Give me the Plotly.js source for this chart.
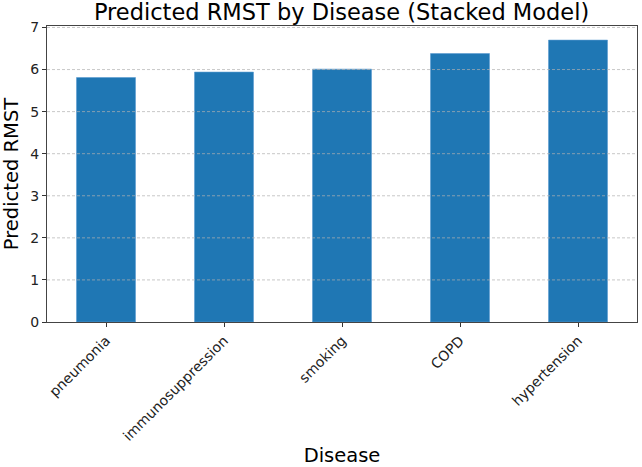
<!DOCTYPE html>
<html>
<head>
<meta charset="utf-8">
<script src="https://cdn.plot.ly/plotly-3.0.1.min.js"></script>
<style>html,body{margin:0;padding:0;background:#fff;}#chart{width:642px;height:467px;}</style>
</head>
<body>
<div id="chart"></div>
<script>
const diseases = ["pneumonia", "immunosuppression", "smoking", "COPD", "hypertension"];
const rmst = [5.81, 5.94, 6.01, 6.38, 6.70];
const yTicks = [0, 1, 2, 3, 4, 5, 6, 7];

const font = "DejaVu Sans, sans-serif";
const gridShapes = yTicks.filter(v => v > 0).map(v => ({
  type: "line", xref: "paper", yref: "y", x0: 0, x1: 1, y0: v, y1: v,
  layer: "above",
  line: {color: "rgba(176,176,176,0.7)", width: 1, dash: "3px,2px"}
}));

Plotly.newPlot("chart", [{
  type: "bar",
  x: diseases,
  y: rmst,
  width: 0.5,
  marker: {color: "#1f77b4", line: {color: "#5a9bd0", width: 0.6}},
  hoverinfo: "x+y"
}], {
  width: 642, height: 467,
  margin: {l: 47, r: 5, t: 26, b: 145},
  paper_bgcolor: "#fff", plot_bgcolor: "#fff",
  showlegend: false,
  shapes: gridShapes,
  title: {text: "Predicted RMST by Disease (Stacked Model)", font: {family: font, size: 22.5, color: "#000"},
          x: 0.532, xanchor: "center", y: 0.991, yanchor: "top"},
  xaxis: {
    range: [-0.5, 4.5],
    tickangle: -45,
    ticks: "outside", ticklen: 4, tickcolor: "#333", tickwidth: 1,
    tickfont: {family: font, size: 14, color: "#222"},
    showline: true, linecolor: "#444", linewidth: 1, mirror: true,
    showgrid: false, zeroline: false,
    title: {text: "Disease", font: {family: font, size: 19.5, color: "#000"}, standoff: 9},
    automargin: false
  },
  yaxis: {
    range: [0, 7.035],
    tickvals: yTicks,
    ticks: "outside", ticklen: 4, tickcolor: "#333", tickwidth: 1,
    tickfont: {family: font, size: 14, color: "#222"},
    showline: true, linecolor: "#444", linewidth: 1, mirror: true,
    showgrid: false,
    zeroline: false,
    title: {text: "Predicted RMST", font: {family: font, size: 19.5, color: "#000"}, standoff: 6},
    automargin: false
  }
}, {displayModeBar: false, staticPlot: true});
</script>
</body>
</html>
